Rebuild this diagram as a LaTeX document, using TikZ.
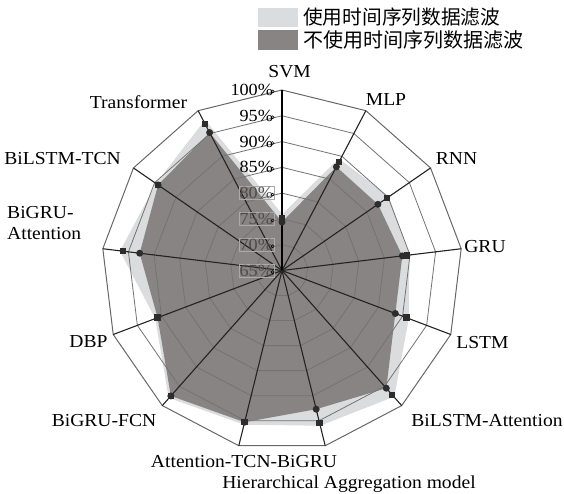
\documentclass[tikz,border=0pt]{standalone}
\usepackage{graphicx}
\usepackage{fontspec}
\setmainfont[FakeStretch=1.07]{Liberation Serif}
\newfontfamily\cjk{Noto Sans CJK SC}
\definecolor{lightpoly}{RGB}{219,220,222}
\definecolor{darkpoly}{RGB}{136,132,131}
\definecolor{gridc}{RGB}{115,115,115}
\definecolor{axisc}{RGB}{35,35,35}
\definecolor{markc}{RGB}{45,45,45}
\definecolor{boxc}{RGB}{172,169,168}
\begin{document}
\begin{tikzpicture}[x=1pt,y=1pt,
  lbl/.style={font=\fontsize{18.3}{21}\selectfont, inner sep=0pt, anchor=base},
  ticklbl/.style={font=\fontsize{17}{19}\selectfont, inner sep=0.8pt, line width=0.5pt, anchor=east},
  ring/.style={draw=gridc, line width=0.8pt},
  outerring/.style={draw=gridc!90!black, line width=1pt},
  axisline/.style={draw=axisc, line width=1.1pt},
  sqm/.style={rectangle, fill=markc, minimum size=6.5pt, inner sep=0pt},
  cim/.style={circle, fill=markc, minimum size=7pt, inner sep=0pt},
  legbox/.style={rectangle, minimum width=40pt, minimum height=19.5pt, inner sep=0pt},
  legtxt/.style={font=\cjk\fontsize{20}{22}\selectfont, inner sep=0pt, anchor=west},
]
\useasboundingbox (0,0) rectangle (564,494);
\def\R{180.5}
\begin{scope}[shift={(282,223.5)}]
  \coordinate (O) at (0,0);
  % axis end points
  \foreach \k in {0,...,12}{
    \coordinate (a\k) at ({90-\k*360/13}:\R);
  }
  % data: with filtering (light) and without (dark)
  \foreach \v [count=\k from 0] in {75.2,88.8,89.7,89.4,90.8,97.2,95.5,95.3,97.5,90.8,96.1,94.2,97.1}{
    \coordinate (l\k) at ({90-\k*360/13}:{(\v-65)/35*\R});
  }
  \foreach \v [count=\k from 0] in {74.4,87.7,87.6,88.5,88.5,95.5,92.7,95.3,97.5,90.8,92.8,94.2,95.2}{
    \coordinate (d\k) at ({90-\k*360/13}:{(\v-65)/35*\R});
  }
  % polygons
  \filldraw[fill=lightpoly, draw=lightpoly, line width=5pt, line join=round]
    (l0) \foreach \k in {1,...,12}{ -- (l\k)} -- cycle;
  \fill[darkpoly] (d0) \foreach \k in {1,...,12}{ -- (d\k)} -- cycle;
  % rings
  \foreach \j in {1,...,6}{
    \draw[ring] (90:{\j*\R/7}) \foreach \k in {1,...,12}{ -- ({90-\k*360/13}:{\j*\R/7})} -- cycle;
  }
  \draw[outerring] (a0) \foreach \k in {1,...,12}{ -- (a\k)} -- cycle;
  % axes
  \foreach \k in {1,...,12}{
    \draw[axisline] (O) -- (a\k);
  }
  \draw[draw=black, line width=2pt] (O) -- (a0);
  % tick labels
  \foreach \j in {0,...,7}{
    \pgfmathtruncatemacro\pv{65+5*\j}
    \ifnum\j<4
      \node[ticklbl, draw=boxc, text=black!70] (t\j) at (-8,{\j*\R/7}) {\pv\%};
    \else
      \node[ticklbl, text=black] (t\j) at (-8,{\j*\R/7}) {\pv\%};
    \fi
    \draw[line width=0.5pt] (-9.3,{\j*\R/7-1.5}) circle (1.5pt);
  }
  % markers
  \foreach \k in {0,...,12}{
    \node[sqm] (ms\k) at (l\k) {};
  }
  \foreach \k in {0,...,12}{
    \node[cim] (mc\k) at (d\k) {};
  }
\end{scope}
% axis labels
\node[lbl] (nSVM) at (289.6,416) {SVM};
\node[lbl] (nMLP) at (386,388) {MLP};
\node[lbl] (nRNN) at (456.5,329) {RNN};
\node[lbl] (nGRU) at (485,241) {GRU};
\node[lbl] (nLSTM) at (482.5,145) {LSTM};
\node[lbl] (nBLA) at (487,67) {BiLSTM-Attention};
\node[lbl] (nHAM) at (349,5) {Hierarchical Aggregation model};
\node[lbl] (nATB) at (244,26) {Attention-TCN-BiGRU};
\node[lbl] (nBGF) at (104,67) {BiGRU-FCN};
\node[lbl] (nDBP) at (88.5,146) {DBP};
\node[lbl, anchor=base west, align=left] (nBGA) at (7,254) {BiGRU-\\Attention};
\node[lbl] (nBLT) at (62.5,329) {BiLSTM-TCN};
\node[lbl] (nTRF) at (138.5,385) {Transformer};
% legend
\node[legbox, fill=lightpoly] (leg1) at (278,476.5) {};
\node[legbox, fill=darkpoly] (leg2) at (278,454) {};
\node[legtxt] (legt1) at (303,476.5) {\resizebox{197pt}{!}{使用时间序列数据滤波}};
\node[legtxt] (legt2) at (303,454) {\resizebox{220pt}{!}{不使用时间序列数据滤波}};
\end{tikzpicture}
\end{document}
